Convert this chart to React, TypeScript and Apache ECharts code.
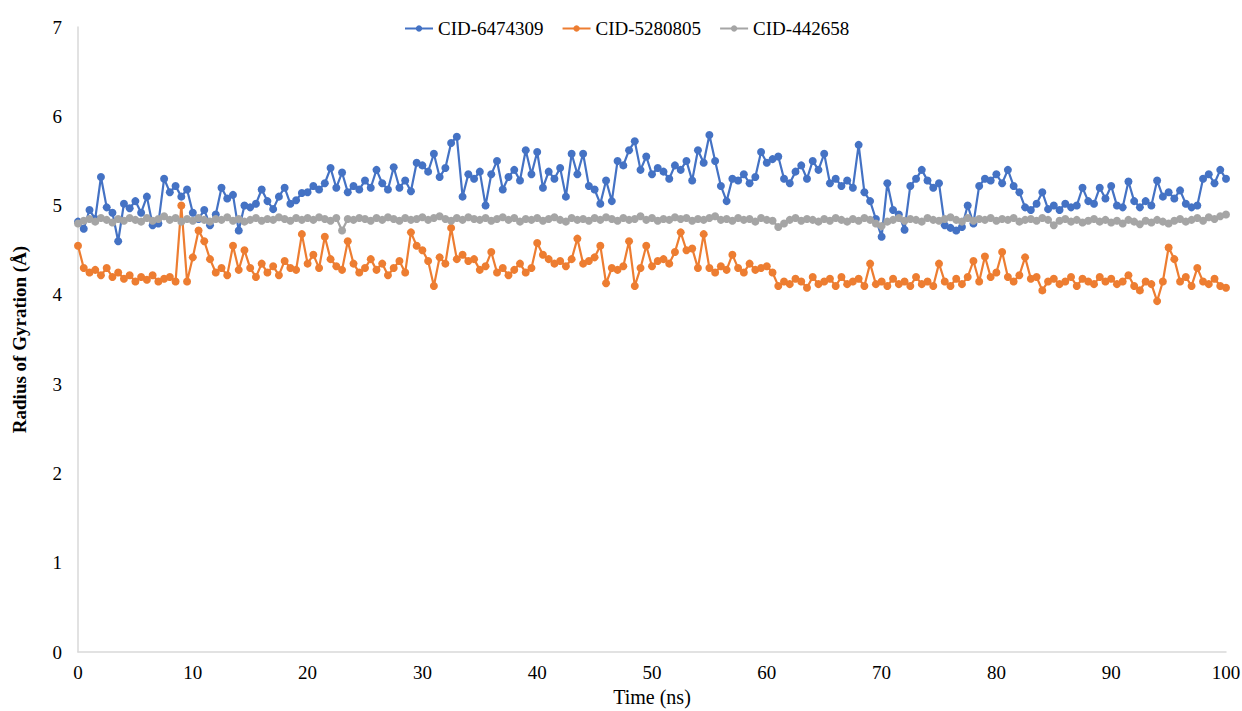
import React, { useEffect, useRef } from "react";
import * as echarts from "echarts";

const TIME_START = 0;
const TIME_STEP = 0.5; // ns between sampled points

const seriesNames = ["CID-6474309", "CID-5280805", "CID-442658"];
const seriesColors = ["#4472C4", "#ED7D31", "#A5A5A5"];

const cid6474309 = [
  4.82, 4.74, 4.95, 4.85, 5.32, 4.98, 4.92, 4.60, 5.02, 4.97,
  5.05, 4.92, 5.10, 4.78, 4.80, 5.30, 5.15, 5.22, 5.10, 5.18,
  4.92, 4.85, 4.95, 4.78, 4.90, 5.20, 5.08, 5.12, 4.72, 5.00,
  4.98, 5.02, 5.18, 5.05, 4.96, 5.10, 5.20, 5.02, 5.06, 5.14,
  5.15, 5.22, 5.18, 5.25, 5.42, 5.20, 5.37, 5.15, 5.22, 5.18,
  5.28, 5.20, 5.40, 5.25, 5.18, 5.43, 5.20, 5.28, 5.16, 5.48,
  5.45, 5.38, 5.58, 5.32, 5.42, 5.70, 5.77, 5.10, 5.35, 5.30,
  5.38, 5.00, 5.35, 5.50, 5.18, 5.32, 5.40, 5.28, 5.62, 5.35,
  5.60, 5.20, 5.38, 5.30, 5.42, 5.10, 5.58, 5.35, 5.58, 5.22,
  5.18, 5.02, 5.28, 5.05, 5.50, 5.45, 5.62, 5.72, 5.40, 5.55,
  5.35, 5.42, 5.38, 5.30, 5.45, 5.40, 5.50, 5.28, 5.62, 5.48,
  5.79, 5.50, 5.22, 5.05, 5.30, 5.28, 5.35, 5.25, 5.32, 5.60,
  5.48, 5.52, 5.55, 5.30, 5.25, 5.38, 5.45, 5.30, 5.50, 5.40,
  5.58, 5.25, 5.30, 5.22, 5.28, 5.20, 5.68, 5.15, 5.05, 4.85,
  4.65, 5.25, 4.95, 4.90, 4.73, 5.22, 5.30, 5.40, 5.28, 5.20,
  5.25, 4.78, 4.75, 4.72, 4.76, 5.00, 4.80, 5.22, 5.30, 5.28,
  5.35, 5.25, 5.40, 5.22, 5.15, 4.98, 4.95, 5.02, 5.15, 4.96,
  5.00, 4.95, 5.02, 4.98, 5.00, 5.20, 5.05, 5.02, 5.20, 5.08,
  5.22, 5.00, 4.98, 5.27, 5.05, 4.98, 5.05, 5.00, 5.28, 5.10,
  5.15, 5.08, 5.17, 5.02, 4.98, 5.00, 5.30, 5.35, 5.25, 5.40,
  5.30,
];

const cid5280805 = [
  4.55, 4.30, 4.25, 4.28, 4.22, 4.30, 4.20, 4.25, 4.18, 4.22,
  4.15, 4.20, 4.17, 4.22, 4.15, 4.18, 4.20, 4.15, 5.00, 4.15,
  4.42, 4.72, 4.60, 4.40, 4.25, 4.30, 4.22, 4.55, 4.28, 4.50,
  4.30, 4.20, 4.35, 4.25, 4.32, 4.22, 4.38, 4.30, 4.28, 4.68,
  4.35, 4.45, 4.30, 4.65, 4.40, 4.32, 4.28, 4.60, 4.35, 4.25,
  4.30, 4.40, 4.28, 4.35, 4.22, 4.30, 4.38, 4.25, 4.70, 4.55,
  4.50, 4.38, 4.10, 4.42, 4.35, 4.75, 4.40, 4.45, 4.38, 4.40,
  4.28, 4.32, 4.48, 4.25, 4.30, 4.22, 4.28, 4.35, 4.25, 4.30,
  4.58, 4.45, 4.40, 4.35, 4.38, 4.32, 4.40, 4.63, 4.35, 4.38,
  4.42, 4.55, 4.13, 4.30, 4.28, 4.32, 4.60, 4.10, 4.30, 4.55,
  4.32, 4.38, 4.40, 4.35, 4.48, 4.70, 4.50, 4.52, 4.30, 4.68,
  4.30, 4.25, 4.32, 4.28, 4.45, 4.30, 4.25, 4.35, 4.28, 4.30,
  4.32, 4.25, 4.10, 4.15, 4.12, 4.18, 4.15, 4.08, 4.20, 4.12,
  4.15, 4.18, 4.10, 4.20, 4.12, 4.15, 4.18, 4.10, 4.35, 4.12,
  4.15, 4.10, 4.18, 4.12, 4.15, 4.10, 4.20, 4.12, 4.15, 4.10,
  4.35, 4.15, 4.10, 4.18, 4.12, 4.20, 4.38, 4.15, 4.43, 4.20,
  4.25, 4.48, 4.20, 4.15, 4.22, 4.42, 4.18, 4.20, 4.05, 4.15,
  4.18, 4.12, 4.15, 4.20, 4.10, 4.18, 4.15, 4.12, 4.20, 4.15,
  4.18, 4.12, 4.15, 4.22, 4.10, 4.05, 4.15, 4.12, 3.93, 4.15,
  4.53, 4.40, 4.15, 4.20, 4.10, 4.30, 4.15, 4.12, 4.18, 4.10,
  4.08,
];

const cid442658 = [
  4.80, 4.83, 4.85, 4.82, 4.86, 4.84, 4.81, 4.85, 4.83, 4.86,
  4.84, 4.82, 4.86, 4.83, 4.85, 4.88, 4.84, 4.86, 4.82, 4.85,
  4.83, 4.86, 4.84, 4.82, 4.85, 4.84, 4.87, 4.83, 4.85, 4.82,
  4.84, 4.86, 4.83, 4.85, 4.84, 4.87, 4.85, 4.83, 4.86, 4.84,
  4.86, 4.84, 4.87, 4.85, 4.83, 4.86, 4.72, 4.85, 4.84, 4.86,
  4.85, 4.83, 4.86, 4.84, 4.87, 4.85, 4.83, 4.86, 4.84, 4.85,
  4.87, 4.84, 4.86, 4.88, 4.85, 4.83, 4.86, 4.84, 4.87, 4.85,
  4.84, 4.86, 4.83, 4.85, 4.87, 4.84, 4.86, 4.82, 4.85, 4.84,
  4.86, 4.83, 4.85, 4.87, 4.84, 4.82, 4.86, 4.84, 4.85, 4.83,
  4.86, 4.84, 4.87, 4.85, 4.83, 4.86, 4.84, 4.85, 4.88, 4.84,
  4.86, 4.83, 4.85, 4.84, 4.87, 4.85, 4.86, 4.83, 4.85, 4.84,
  4.86, 4.88, 4.84, 4.85, 4.83, 4.86, 4.84, 4.85, 4.82, 4.86,
  4.84, 4.83, 4.76, 4.80, 4.84, 4.86, 4.83, 4.85, 4.84, 4.82,
  4.85, 4.83, 4.86, 4.84, 4.82, 4.85, 4.83, 4.86, 4.84, 4.80,
  4.77, 4.82, 4.84, 4.86, 4.83, 4.85, 4.84, 4.82, 4.86, 4.84,
  4.83, 4.85, 4.87, 4.84, 4.82, 4.86, 4.83, 4.85, 4.84, 4.86,
  4.83, 4.85, 4.84, 4.86, 4.82, 4.84, 4.85, 4.83, 4.86, 4.84,
  4.78, 4.83, 4.85, 4.82, 4.84, 4.81, 4.83, 4.85, 4.82, 4.84,
  4.81, 4.83, 4.80, 4.84, 4.82, 4.79, 4.83, 4.81, 4.84, 4.82,
  4.80, 4.83, 4.85, 4.82, 4.84, 4.86, 4.83, 4.87, 4.85, 4.88,
  4.90,
];

const xTicks = { min: 0, max: 100, interval: 10 };
const yTicks = { min: 0, max: 7, interval: 1 };

const toPairs = (vals: number[]) =>
  vals.map((v, i) => [TIME_START + i * TIME_STEP, v]);

const FONT = "'Liberation Serif', 'Times New Roman', serif";

export default function App() {
  const ref = useRef<HTMLDivElement>(null);
  useEffect(() => {
    if (!ref.current) return;
    const chart = echarts.init(ref.current, null, { renderer: "svg" });
    const allData = [cid6474309, cid5280805, cid442658];
    chart.setOption({
      animation: false,
      backgroundColor: "#ffffff",
      textStyle: { fontFamily: FONT, color: "#000" },
      legend: {
        top: 14,
        left: 399,
        itemGap: 18,
        itemWidth: 28,
        itemHeight: 8,
        textStyle: { fontFamily: FONT, fontSize: 19, color: "#000" },
        data: seriesNames,
      },
      grid: {
        left: 78,
        right: 16,
        top: 27,
        bottom: 59,
        containLabel: false,
        outerBoundsMode: "none",
      },
      xAxis: {
        type: "value",
        min: xTicks.min,
        max: xTicks.max,
        interval: xTicks.interval,
        name: "Time (ns)",
        nameLocation: "middle",
        nameGap: 35,
        nameTextStyle: { fontFamily: FONT, fontSize: 20, color: "#000" },
        axisLine: { show: true, lineStyle: { color: "#d9d9d9", width: 1.5 } },
        axisTick: { show: false },
        splitLine: { show: false },
        axisLabel: { fontFamily: FONT, fontSize: 19, color: "#000", margin: 11 },
      },
      yAxis: {
        type: "value",
        min: yTicks.min,
        max: yTicks.max,
        interval: yTicks.interval,
        name: "Radius of Gyration (Å)",
        nameLocation: "middle",
        nameGap: 49,
        nameTextStyle: {
          fontFamily: FONT,
          fontSize: 19,
          fontWeight: "bold",
          color: "#000",
        },
        axisLine: { show: true, lineStyle: { color: "#d9d9d9", width: 1.5 } },
        axisTick: { show: false },
        splitLine: { show: false },
        axisLabel: { fontFamily: FONT, fontSize: 19, color: "#000", margin: 16 },
      },
      series: seriesNames.map((name, k) => ({
        name,
        type: "line",
        data: toPairs(allData[k]),
        symbol: "circle",
        symbolSize: 8,
        showSymbol: true,
        showAllSymbol: true,
        color: seriesColors[k],
        lineStyle: { width: 2.2, color: seriesColors[k] },
        itemStyle: { color: seriesColors[k] },
        z: 2 + k,
      })),
    });
    return () => chart.dispose();
  }, []);
  return (
    <div
      ref={ref}
      style={{ position: "absolute", left: 0, top: 0, width: 1242, height: 711 }}
    />
  );
}
